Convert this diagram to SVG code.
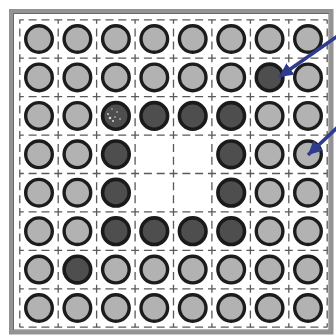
<svg xmlns="http://www.w3.org/2000/svg" width="336" height="336" viewBox="0 0 336 336">
<defs>
<style>
.g{stroke:#5a5a5a;stroke-width:1.3;stroke-dasharray:8 4.81;stroke-dashoffset:4;fill:none}
.l{fill:#b2b2b2;stroke:#1c1c1c;stroke-width:3.4}
.d{fill:#4e4e4e;stroke:#1a1a1a;stroke-width:3.6}
.a{stroke:#2f3b8c;stroke-width:3.6;fill:none}
</style>
<marker id="ah" markerUnits="userSpaceOnUse" markerWidth="16" markerHeight="14" refX="14" refY="7" orient="auto">
<path d="M0,0 L14,7 L0,14 Z" fill="#2f3b8c"/>
</marker>
</defs>
<rect width="336" height="336" fill="#ffffff"/>
<g id="frame">
<rect x="11" y="11" width="320.5" height="321.5" fill="#ffffff" stroke="#939393" stroke-width="4"/>
<rect x="13.5" y="13.5" width="315.5" height="316.5" fill="none" stroke="#6a6a6a" stroke-width="1"/>
</g>
<g id="grid">
<line class="g" x1="19.8" y1="19.8" x2="327.2" y2="19.8"/>
<line class="g" x1="19.8" y1="58.2" x2="327.2" y2="58.2"/>
<line class="g" x1="19.8" y1="96.6" x2="327.2" y2="96.6"/>
<line class="g" x1="19.8" y1="135.1" x2="327.2" y2="135.1"/>
<line class="g" x1="19.8" y1="173.5" x2="327.2" y2="173.5"/>
<line class="g" x1="19.8" y1="211.9" x2="327.2" y2="211.9"/>
<line class="g" x1="19.8" y1="250.4" x2="327.2" y2="250.4"/>
<line class="g" x1="19.8" y1="288.8" x2="327.2" y2="288.8"/>
<line class="g" x1="19.8" y1="327.2" x2="327.2" y2="327.2"/>
<line class="g" y1="19.8" x1="19.8" y2="327.2" x2="19.8"/>
<line class="g" y1="19.8" x1="58.2" y2="327.2" x2="58.2"/>
<line class="g" y1="19.8" x1="96.6" y2="327.2" x2="96.6"/>
<line class="g" y1="19.8" x1="135.1" y2="327.2" x2="135.1"/>
<line class="g" y1="19.8" x1="173.5" y2="327.2" x2="173.5"/>
<line class="g" y1="19.8" x1="211.9" y2="327.2" x2="211.9"/>
<line class="g" y1="19.8" x1="250.4" y2="327.2" x2="250.4"/>
<line class="g" y1="19.8" x1="288.8" y2="327.2" x2="288.8"/>
<line class="g" y1="19.8" x1="327.2" y2="327.2" x2="327.2"/>
</g>
<g id="r1">
<g id="c11"><circle class="l" cx="39" cy="39" r="13.3"/></g>
<g id="c12"><circle class="l" cx="77.4" cy="39" r="13.3"/></g>
<g id="c13"><circle class="l" cx="115.9" cy="39" r="13.3"/></g>
<g id="c14"><circle class="l" cx="154.3" cy="39" r="13.3"/></g>
<g id="c15"><circle class="l" cx="192.7" cy="39" r="13.3"/></g>
<g id="c16"><circle class="l" cx="231.2" cy="39" r="13.3"/></g>
<g id="c17"><circle class="l" cx="269.6" cy="39" r="13.3"/></g>
<g id="c18"><circle class="l" cx="308" cy="39" r="13.3"/></g>
</g>
<g id="r2">
<g id="c21"><circle class="l" cx="39" cy="77.4" r="13.3"/></g>
<g id="c22"><circle class="l" cx="77.4" cy="77.4" r="13.3"/></g>
<g id="c23"><circle class="l" cx="115.9" cy="77.4" r="13.3"/></g>
<g id="c24"><circle class="l" cx="154.3" cy="77.4" r="13.3"/></g>
<g id="c25"><circle class="l" cx="192.7" cy="77.4" r="13.3"/></g>
<g id="c26"><circle class="l" cx="231.2" cy="77.4" r="13.3"/></g>
<g id="c27"><circle class="d" cx="269.6" cy="77.4" r="13.3"/></g>
<g id="c28"><circle class="l" cx="308" cy="77.4" r="13.3"/></g>
</g>
<g id="r3">
<g id="c31"><circle class="l" cx="39" cy="115.9" r="13.3"/></g>
<g id="c32"><circle class="l" cx="77.4" cy="115.9" r="13.3"/></g>
<g id="c33"><circle class="d" cx="115.9" cy="115.9" r="13.3"/>
<g fill="#d8d8d8"><circle cx="110" cy="118" r="1.3"/><circle cx="113" cy="121" r="1"/><circle cx="108" cy="114" r="0.9"/><circle cx="117" cy="112" r="0.8"/><circle cx="120" cy="119" r="0.8"/><circle cx="112" cy="109" r="0.7"/><circle cx="115" cy="117" r="0.8"/></g></g>
<g id="c34"><circle class="d" cx="154.3" cy="115.9" r="13.3"/></g>
<g id="c35"><circle class="d" cx="192.7" cy="115.9" r="13.3"/></g>
<g id="c36"><circle class="d" cx="231.2" cy="115.9" r="13.3"/></g>
<g id="c37"><circle class="l" cx="269.6" cy="115.9" r="13.3"/></g>
<g id="c38"><circle class="l" cx="308" cy="115.9" r="13.3"/></g>
</g>
<g id="r4">
<g id="c41"><circle class="l" cx="39" cy="154.3" r="13.3"/></g>
<g id="c42"><circle class="l" cx="77.4" cy="154.3" r="13.3"/></g>
<g id="c43"><circle class="d" cx="115.9" cy="154.3" r="13.3"/></g>
<g id="c46"><circle class="d" cx="231.2" cy="154.3" r="13.3"/></g>
<g id="c47"><circle class="l" cx="269.6" cy="154.3" r="13.3"/></g>
<g id="c48"><circle class="l" cx="308" cy="154.3" r="13.3"/></g>
</g>
<g id="r5">
<g id="c51"><circle class="l" cx="39" cy="192.7" r="13.3"/></g>
<g id="c52"><circle class="l" cx="77.4" cy="192.7" r="13.3"/></g>
<g id="c53"><circle class="d" cx="115.9" cy="192.7" r="13.3"/></g>
<g id="c56"><circle class="d" cx="231.2" cy="192.7" r="13.3"/></g>
<g id="c57"><circle class="l" cx="269.6" cy="192.7" r="13.3"/></g>
<g id="c58"><circle class="l" cx="308" cy="192.7" r="13.3"/></g>
</g>
<g id="r6">
<g id="c61"><circle class="l" cx="39" cy="231.2" r="13.3"/></g>
<g id="c62"><circle class="l" cx="77.4" cy="231.2" r="13.3"/></g>
<g id="c63"><circle class="d" cx="115.9" cy="231.2" r="13.3"/></g>
<g id="c64"><circle class="d" cx="154.3" cy="231.2" r="13.3"/></g>
<g id="c65"><circle class="d" cx="192.7" cy="231.2" r="13.3"/></g>
<g id="c66"><circle class="d" cx="231.2" cy="231.2" r="13.3"/></g>
<g id="c67"><circle class="l" cx="269.6" cy="231.2" r="13.3"/></g>
<g id="c68"><circle class="l" cx="308" cy="231.2" r="13.3"/></g>
</g>
<g id="r7">
<g id="c71"><circle class="l" cx="39" cy="269.6" r="13.3"/></g>
<g id="c72"><circle class="d" cx="77.4" cy="269.6" r="13.3"/></g>
<g id="c73"><circle class="l" cx="115.9" cy="269.6" r="13.3"/></g>
<g id="c74"><circle class="l" cx="154.3" cy="269.6" r="13.3"/></g>
<g id="c75"><circle class="l" cx="192.7" cy="269.6" r="13.3"/></g>
<g id="c76"><circle class="l" cx="231.2" cy="269.6" r="13.3"/></g>
<g id="c77"><circle class="l" cx="269.6" cy="269.6" r="13.3"/></g>
<g id="c78"><circle class="l" cx="308" cy="269.6" r="13.3"/></g>
</g>
<g id="r8">
<g id="c81"><circle class="l" cx="39" cy="308" r="13.3"/></g>
<g id="c82"><circle class="l" cx="77.4" cy="308" r="13.3"/></g>
<g id="c83"><circle class="l" cx="115.9" cy="308" r="13.3"/></g>
<g id="c84"><circle class="l" cx="154.3" cy="308" r="13.3"/></g>
<g id="c85"><circle class="l" cx="192.7" cy="308" r="13.3"/></g>
<g id="c86"><circle class="l" cx="231.2" cy="308" r="13.3"/></g>
<g id="c87"><circle class="l" cx="269.6" cy="308" r="13.3"/></g>
<g id="c88"><circle class="l" cx="308" cy="308" r="13.3"/></g>
</g>
<g id="connectors">
<line class="a" x1="339" y1="35" x2="279" y2="77" marker-end="url(#ah)"/>
<line class="a" x1="339" y1="126" x2="308" y2="155" marker-end="url(#ah)"/>
</g>
</svg>
